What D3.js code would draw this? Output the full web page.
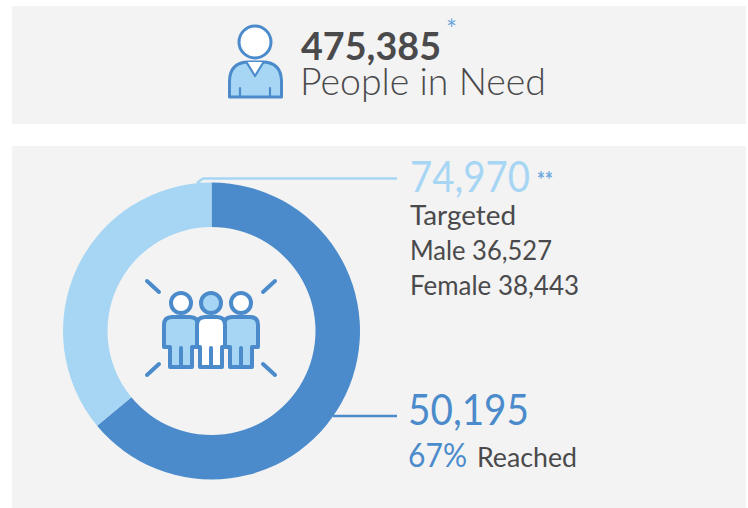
<!DOCTYPE html>
<html><head><meta charset="utf-8">
<script src="https://cdn.jsdelivr.net/npm/d3@7"></script>
<style>html,body{margin:0;padding:0;background:#fff}svg{display:block}text{font-family:Lato,sans-serif}</style>
</head><body><div id="c"></div>
<script>
const segmentNames = ["Reached", "Not yet reached"];
const segmentShares = [64, 36]; // as drawn in the picture
const segmentColors = ["#4b8bcb", "#a6d6f4"];
const needValue = "475,385";
const needLabel = "People in Need";
const targetedValue = "74,970";
const targetedLines = ["Targeted", "Male 36,527", "Female 38,443"];
const reachedValue = "50,195";
const reachedPct = "67%";
const reachedLabel = "Reached";

const W = 748, H = 508, dark = "#4a4a4c", blue = "#4b8bcb", light = "#a6d6f4", bg = "#f3f3f3";
const svg = d3.select("#c").append("svg").attr("width", W).attr("height", H);
svg.append("rect").attr("x", 12).attr("y", 6).attr("width", 734).attr("height", 118).attr("fill", bg);
svg.append("rect").attr("x", 12).attr("y", 146).attr("width", 734).attr("height", 362).attr("fill", bg);

// donut
const pie = d3.pie().sort(null)(segmentShares);
const arc = d3.arc().innerRadius(104).outerRadius(148.5);
const donut = svg.append("g").attr("transform", "translate(211.5,331)");
donut.selectAll("path").data(pie).join("path").attr("d", arc).attr("fill", (d, i) => segmentColors[i]);

// leaders
svg.append("path").attr("d", "M197,183 L203,178.5 H397").attr("fill", "none").attr("stroke", light).attr("stroke-width", 2.4);
svg.append("path").attr("d", "M333,416 H397").attr("fill", "none").attr("stroke", blue).attr("stroke-width", 2.4);

function t(x, y, s, size, fill, weight, len) {
  const n = svg.append("text").attr("x", x).attr("y", y).attr("font-size", size).attr("fill", fill)
    .attr("font-weight", weight || 400).text(s);
  if (len) n.attr("textLength", len).attr("lengthAdjust", "spacingAndGlyphs");
  return n;
}
// header
t(301, 60, needValue, 39, dark, 700, 140);
t(446, 39, "*", 26, "#6ea8dc", 400);
t(300, 95, needLabel, 37, dark, 300, 246);
// targeted
t(410, 192, targetedValue, 42, light, 400, 120);
t(537, 188, "**", 23, "#6ea8dc", 700, 16);
t(410, 225, targetedLines[0], 26, dark, 400, 106);
t(410, 260, targetedLines[1], 26, dark, 400, 142);
t(410, 295, targetedLines[2], 26, dark, 400, 169);
// reached
t(408, 425, reachedValue, 42, blue, 400, 121);
t(408, 467, reachedPct, 32, blue, 400, 59);
t(477, 467, reachedLabel, 27, dark, 400, 100);

// person icon
const p = svg.append("g").attr("stroke", blue).attr("stroke-width", 3).attr("stroke-linejoin", "round").attr("stroke-linecap", "round");
p.append("path").attr("d", "M229.5,97 V82 Q229.5,62 249,62 H262 Q281.5,62 281.5,82 V97 Z").attr("fill", light);
p.append("path").attr("d", "M247,62 L255,76 L263,62 Z").attr("fill", "#fff").attr("stroke", "none");
p.append("path").attr("d", "M247,63 L255,76 L263,63").attr("fill", "none").attr("stroke-width", 2.2);
p.append("path").attr("d", "M240,88 V97 M270,88 V97").attr("fill", "none").attr("stroke-width", 2.2);
p.append("circle").attr("cx", 255).attr("cy", 42).attr("r", 16).attr("fill", "#fff");

// group icon
const g = svg.append("g").attr("stroke", blue).attr("stroke-width", 4).attr("stroke-linejoin", "round").attr("stroke-linecap", "round").attr("fill", "none");
[[147,281,159,292],[275,281,263,292],[147,375,159,364],[275,375,263,364]].forEach(l =>
  g.append("line").attr("x1", l[0]).attr("y1", l[1]).attr("x2", l[2]).attr("y2", l[3]));
function fig(cx, hw, fill, head) {
  g.append("path").attr("fill", fill).attr("d",
    `M${cx-11},347 H${cx-hw} V325 Q${cx-hw},317 ${cx-hw+8},317 H${cx+hw-8} Q${cx+hw},317 ${cx+hw},325 V347 H${cx+11} V367 H${cx-11} Z`);
  g.append("path").attr("d", `M${cx},348 V367`);
  g.append("circle").attr("cx", cx).attr("cy", 303).attr("r", 10).attr("fill", head);
}
fig(181, 17, light, "#fff");
fig(241, 17, light, "#fff");
fig(211, 14, "#fff", light);
</script></body></html>
